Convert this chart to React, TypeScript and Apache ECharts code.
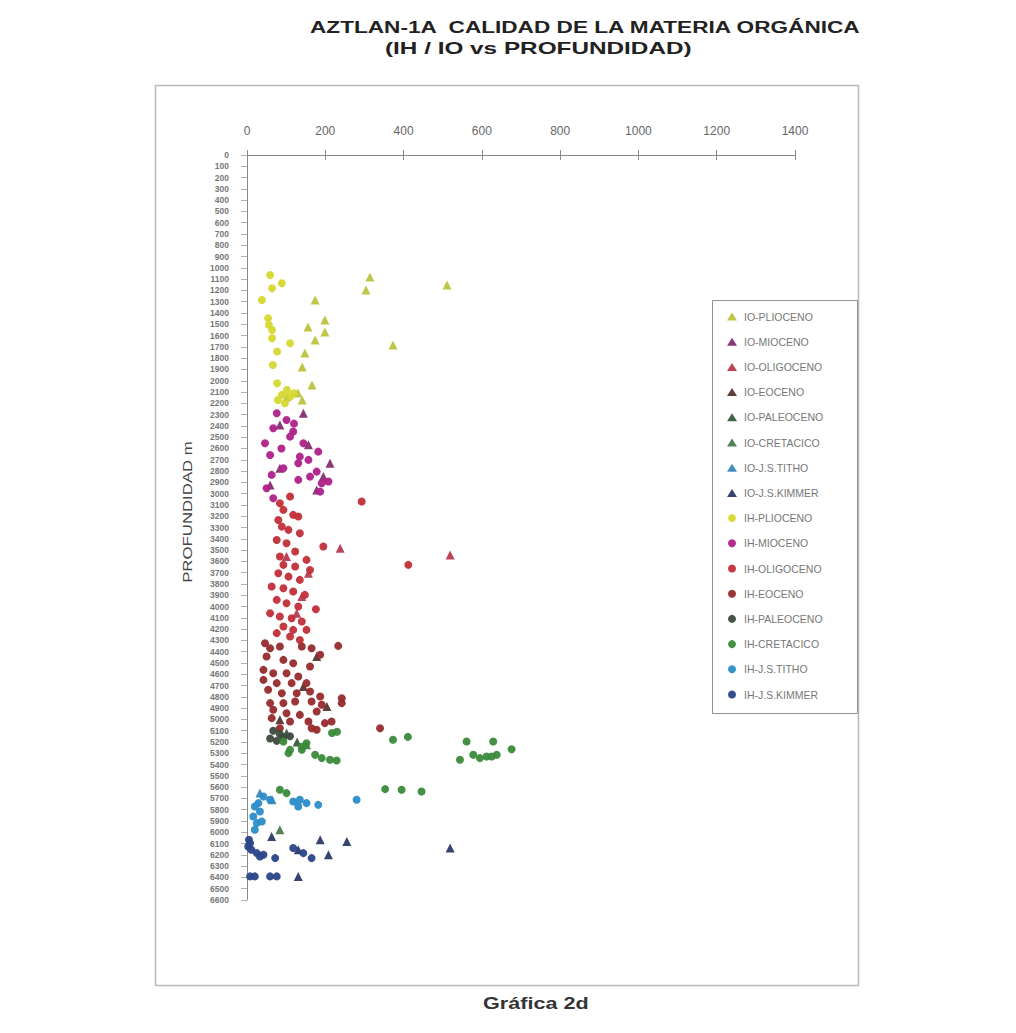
import React, { useEffect, useRef } from "react";
import * as echarts from "echarts";

const TITLE_1 = "AZTLAN-1A  CALIDAD DE LA MATERIA ORGÁNICA";
const TITLE_2 = "(IH / IO vs PROFUNDIDAD)";
const FOOTER = "Gráfica 2d";
const Y_NAME = "PROFUNDIDAD m";

const X_MIN = 0;
const X_MAX = 1400;
const X_STEP = 200;
const Y_MIN = 0;
const Y_MAX = 6600;
const Y_STEP = 100;

const IO_PLIOCENO = [[314,1081],[304,1196],[511,1151],[174,1284],[199,1462],[156,1523],[199,1568],[174,1639],[373,1683],[148,1754],[141,1878],[166,2037],[130,2108],[141,2170],[102,2143]];
const IH_PLIOCENO = [[59,1063],[89,1136],[64,1181],[38,1284],[54,1446],[56,1505],[64,1550],[64,1623],[110,1668],[77,1741],[66,1860],[77,2022],[102,2081],[89,2125],[110,2140],[79,2170],[97,2199],[120,2110]];

const IO_MIOCENO = [[144,2288],[84,2391],[157,2568],[212,2731],[59,2923],[195,2849],[178,2967],[84,2775]];
const IH_MIOCENO = [[76,2288],[101,2347],[67,2421],[118,2450],[46,2554],[144,2554],[59,2657],[182,2628],[131,2731],[93,2775],[63,2834],[131,2878],[161,2849],[191,2908],[50,2952],[187,2982],[67,3041],[208,2893],[110,2495],[135,2672],[178,2805],[157,2701],[88,2600],[120,2380]];

const IO_OLIGOCENO = [[238,3484],[519,3543],[157,3705],[101,3557],[140,3912],[127,4059]];
const IH_OLIGOCENO = [[110,3026],[84,3085],[93,3144],[118,3188],[80,3233],[131,3203],[89,3292],[106,3321],[135,3351],[76,3410],[101,3439],[123,3513],[84,3557],[152,3587],[93,3631],[123,3646],[161,3676],[80,3705],[106,3735],[135,3764],[63,3823],[93,3838],[118,3867],[148,3897],[76,3941],[101,3971],[131,4000],[176,4024],[59,4059],[84,4089],[114,4104],[140,4133],[93,4177],[118,4207],[152,4207],[76,4236],[110,4266],[135,4296],[293,3070],[195,3469],[412,3631]];

const IO_EOCENO = [[178,4443],[144,4709],[204,4886],[84,5004]];
const IH_EOCENO = [[46,4325],[59,4369],[84,4354],[140,4354],[165,4369],[187,4428],[50,4443],[93,4473],[118,4502],[161,4532],[42,4561],[67,4591],[101,4591],[131,4620],[42,4650],[76,4679],[114,4679],[152,4679],[54,4738],[89,4768],[127,4768],[161,4753],[187,4797],[59,4856],[93,4856],[123,4841],[165,4841],[191,4871],[67,4915],[101,4945],[135,4960],[178,4930],[63,4989],[110,5019],[157,5019],[199,5033],[216,5019],[84,5078],[165,5078],[178,5092],[233,4349],[242,4812],[242,4856],[340,5078]];

const IO_PALEOCENO = [[101,5120],[128,5200]];
const IH_PALEOCENO = [[67,5100],[84,5130],[93,5160],[76,5190],[110,5150],[59,5170]];

const IO_CRETACICO = [[152,5225],[84,5978]];
const IH_CRETACICO = [[93,5196],[152,5211],[106,5299],[140,5270],[174,5314],[191,5343],[212,5358],[229,5364],[544,5358],[578,5314],[612,5329],[638,5314],[676,5264],[561,5196],[629,5196],[625,5329],[595,5343],[353,5618],[395,5624],[446,5639],[84,5624],[101,5653],[373,5181],[411,5155],[230,5110],[217,5120],[110,5270],[140,5243]];

const IO_TITHO = [[33,5653],[64,5712]];
const IH_TITHO = [[118,5727],[135,5712],[152,5742],[182,5757],[280,5712],[131,5771],[59,5712],[20,5771],[16,5860],[25,5919],[20,5978],[33,5816],[38,5904],[29,5742],[42,5683]];

const IO_KIMMER = [[63,6037],[187,6067],[255,6081],[208,6199],[131,6391],[519,6140],[131,6155]];
const IH_KIMMER = [[5,6067],[3,6126],[25,6185],[42,6199],[72,6229],[118,6140],[144,6185],[165,6229],[8,6391],[20,6391],[59,6391],[76,6391],[8,6096],[11,6155],[33,6214]];

const SERIES_DEFS = [
  { name: "IO-PLIOCENO", data: IO_PLIOCENO, symbol: "triangle", color: "#bcc23e" },
  { name: "IO-MIOCENO", data: IO_MIOCENO, symbol: "triangle", color: "#84306e" },
  { name: "IO-OLIGOCENO", data: IO_OLIGOCENO, symbol: "triangle", color: "#b83a50" },
  { name: "IO-EOCENO", data: IO_EOCENO, symbol: "triangle", color: "#5a3434" },
  { name: "IO-PALEOCENO", data: IO_PALEOCENO, symbol: "triangle", color: "#3a5a3a" },
  { name: "IO-CRETACICO", data: IO_CRETACICO, symbol: "triangle", color: "#4a7a4a" },
  { name: "IO-J.S.TITHO", data: IO_TITHO, symbol: "triangle", color: "#3a88b8" },
  { name: "IO-J.S.KIMMER", data: IO_KIMMER, symbol: "triangle", color: "#2c3a68" },
  { name: "IH-PLIOCENO", data: IH_PLIOCENO, symbol: "circle", color: "#d6d832" },
  { name: "IH-MIOCENO", data: IH_MIOCENO, symbol: "circle", color: "#b0208a" },
  { name: "IH-OLIGOCENO", data: IH_OLIGOCENO, symbol: "circle", color: "#c22e38" },
  { name: "IH-EOCENO", data: IH_EOCENO, symbol: "circle", color: "#962a2c" },
  { name: "IH-PALEOCENO", data: IH_PALEOCENO, symbol: "circle", color: "#3c4a3c" },
  { name: "IH-CRETACICO", data: IH_CRETACICO, symbol: "circle", color: "#3a8a3a" },
  { name: "IH-J.S.TITHO", data: IH_TITHO, symbol: "circle", color: "#2a8cc8" },
  { name: "IH-J.S.KIMMER", data: IH_KIMMER, symbol: "circle", color: "#2a4488" },
];

const GRID = { left: 247, right: 221, top: 155, bottom: 133 };
const AXIS_COLOR = "#8a8a8a";
const FONT = "Liberation Sans, Arial, sans-serif";

export default function App() {
  const ref = useRef<HTMLDivElement>(null);
  useEffect(() => {
    if (!ref.current) return;
    const chart = echarts.init(ref.current, null, { renderer: "svg" });
    const option: any = {
      animation: false,
      backgroundColor: "#ffffff",
      textStyle: { fontFamily: FONT },
      grid: { ...GRID, containLabel: false },
      xAxis: [
        {
          type: "value", position: "top", min: X_MIN, max: X_MAX, interval: X_STEP,
          axisLine: { show: true, lineStyle: { color: AXIS_COLOR, width: 1 } },
          axisTick: { show: true, length: 5, lineStyle: { color: AXIS_COLOR } },
          axisLabel: { color: "#666", fontSize: 12, margin: 18, formatter: (v: number) => String(v) },
          splitLine: { show: false },
        },
        {
          type: "value", position: "top", min: X_MIN, max: X_MAX, interval: X_STEP,
          axisLine: { show: false },
          axisTick: { show: true, inside: true, length: 5, lineStyle: { color: AXIS_COLOR } },
          axisLabel: { show: false },
          splitLine: { show: false },
        },
      ],
      yAxis: [
        {
          type: "value", inverse: true, min: Y_MIN, max: Y_MAX, interval: Y_STEP,
          axisLine: { show: true, lineStyle: { color: AXIS_COLOR, width: 1 } },
          axisTick: { show: true, length: 6, lineStyle: { color: "#b0b0b0" } },
          axisLabel: { color: "#777", fontSize: 8.5, margin: 18, fontWeight: "bold", formatter: (v: number) => String(v) },
          splitLine: { show: false },
        },
        {
          type: "value", inverse: true, min: Y_MIN, max: Y_MAX, interval: Y_STEP,
          axisLine: { show: false },
          axisTick: { show: true, inside: true, length: 5, lineStyle: { color: "#b0b0b0" } },
          axisLabel: { show: false },
          splitLine: { show: false },
        },
      ],
      legend: {
        orient: "vertical",
        left: 722,
        top: 306,
        itemWidth: 10,
        itemHeight: 8,
        itemGap: 14.2,
        textStyle: { color: "#777", fontSize: 10.5, padding: [0, 0, 0, 2] },
        data: SERIES_DEFS.map((s) => s.name),
      },
      graphic: [
        { type: "rect", shape: { x: 155.5, y: 85.5, width: 703, height: 900 }, style: { fill: "none", stroke: "#b8b8b8", lineWidth: 1.5 }, z: -1 },
        { type: "rect", shape: { x: 712.5, y: 300.5, width: 145, height: 413 }, style: { fill: "#fff", stroke: "#909090", lineWidth: 1 }, z: 1 },
        { type: "text", x: 310, y: 19, scaleX: 1.33, style: { text: TITLE_1, fontSize: 17, fontWeight: "bold", fill: "#222", fontFamily: FONT } },
        { type: "text", x: 385, y: 40, scaleX: 1.52, style: { text: TITLE_2, fontSize: 16, fontWeight: "bold", fill: "#222", fontFamily: FONT } },
        { type: "text", x: 483, y: 996, scaleX: 1.35, style: { text: FOOTER, fontSize: 16, fontWeight: "bold", fill: "#333", fontFamily: FONT } },
        { type: "text", x: 188, y: 512, rotation: Math.PI / 2, scaleX: 1.4, style: { text: Y_NAME, fontSize: 12, fill: "#444", align: "center", verticalAlign: "middle", fontFamily: FONT } },
      ],
      series: SERIES_DEFS.map((s) => ({
        name: s.name,
        type: "scatter",
        data: s.data,
        symbol: s.symbol,
        symbolSize: s.symbol === "triangle" ? 9 : 8,
        itemStyle: { color: s.color, opacity: 0.95 },
        z: 3,
      })),
    };
    chart.setOption(option);
    return () => chart.dispose();
  }, []);
  return (
    <div
      ref={ref}
      style={{ position: "absolute", left: 0, top: 0, width: 1016, height: 1033 }}
    />
  );
}
